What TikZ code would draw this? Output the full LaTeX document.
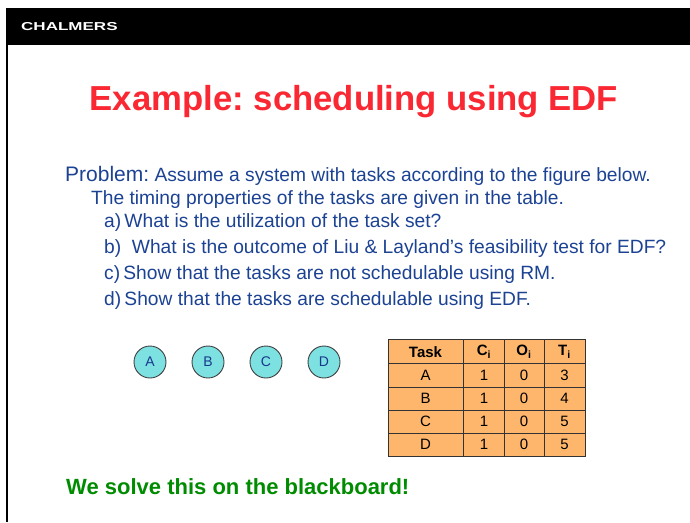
\documentclass[tikz,border=0pt]{standalone}
\usepackage{fontspec}
\usepackage{graphicx}
\setmainfont{Liberation Sans}
\frenchspacing
\definecolor{txtblue}{RGB}{28,66,148}
\definecolor{titlered}{RGB}{250,40,50}
\definecolor{okgreen}{RGB}{0,140,0}
\definecolor{tblorange}{RGB}{253,182,108}
\definecolor{circcyan}{RGB}{125,225,225}
\definecolor{circtxt}{RGB}{25,55,140}
\begin{document}
\begin{tikzpicture}[x=1pt,y=-1pt,
  line/.style={anchor=base west,inner sep=0pt,text=txtblue,font=\fontsize{19.2}{22}\selectfont},
  task/.style={circle,draw=black!75,line width=0.9pt,fill=circcyan,minimum size=32pt,inner sep=0pt,text=circtxt,font=\fontsize{14}{16}\selectfont},
  cell/.style={anchor=center,inner sep=0pt,font=\fontsize{15}{17}\selectfont},
  hcell/.style={anchor=center,inner sep=0pt,font=\bfseries\fontsize{15}{17}\selectfont}]
\useasboundingbox (0,0) rectangle (690,522);
\fill[white] (0,0) rectangle (690,522);
% header bar
\fill[black] (6,8) rectangle (690,45);
\fill[black] (6,45) rectangle (8,522);
\node[anchor=base west,inner sep=0pt,text=white,font=\bfseries\fontsize{11.5}{13}\selectfont] (brand) at (21,30) {\scalebox{1.48}[1]{CHALMERS}};
% title
\node[anchor=base,inner sep=0pt,text=titlered,font=\bfseries\fontsize{34.7}{40}\selectfont] (title) at (354,110) {Example: scheduling using EDF};
% problem text
\node[line] (l1) at (65,181) {{\fontsize{21}{24}\selectfont Problem:} Assume a system with tasks according to the figure below.};
\node[line] (l2) at (91,204) {The timing properties of the tasks are given in the table.};
\node[line] (l3) at (104,227) {a)\,What is the utilization of the task set?};
\node[line] (l4) at (104,253) {b)\ \ What is the outcome of Liu \& Layland's feasibility test for EDF?};
\node[line] (l5) at (104,279) {c)\,Show that the tasks are not schedulable using RM.};
\node[line] (l6) at (104,305) {d)\,Show that the tasks are schedulable using EDF.};
% task circles
\node[task] (A) at (150,362) {A};
\node[task] (B) at (208,362) {B};
\node[task] (C) at (266,362) {C};
\node[task] (D) at (324,362) {D};
% table
\fill[tblorange] (388,339) rectangle (585,456);
\draw[black!80,line width=1pt] (388,339) rectangle (585,456);
\foreach \yy in {363,387,410,433} \draw[black!80,line width=1pt] (388,\yy) -- (585,\yy);
\foreach \xx in {463,504,544} \draw[black!80,line width=1pt] (\xx,339) -- (\xx,456);
\node[hcell] (h1) at (425.5,352) {Task};
\node[hcell] (h2) at (484,352) {C\textsubscript{i}};
\node[hcell] (h3) at (524,352) {O\textsubscript{i}};
\node[hcell] (h4) at (564.5,352) {T\textsubscript{i}};
\foreach \n/\t/\yy in {A/3/375,B/4/398.5,C/5/421.5,D/5/444.5}{
  \node[cell] at (425.5,\yy) {\n};
  \node[cell] at (484,\yy) {1};
  \node[cell] at (524,\yy) {0};
  \node[cell] at (564.5,\yy) {\t};
}
% bottom note
\node[anchor=base west,inner sep=0pt,text=okgreen,font=\bfseries\fontsize{22}{26}\selectfont] (note) at (66,494) {We solve this on the blackboard!};
\end{tikzpicture}
\end{document}
